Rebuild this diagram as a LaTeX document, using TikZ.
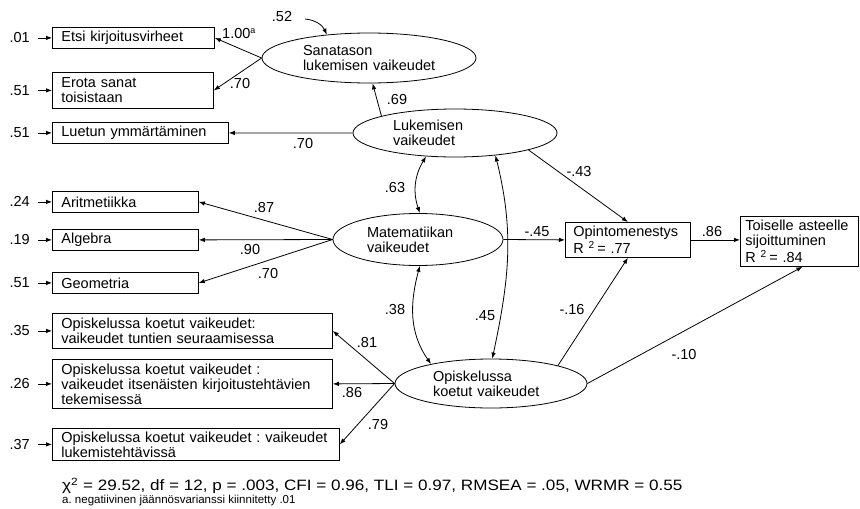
\documentclass[tikz,border=0pt]{standalone}
\usepackage{fontspec}
\setmainfont{Liberation Sans}
\newfontfamily\fitfont[FakeStretch=1.14]{Liberation Sans}
\usetikzlibrary{arrows.meta,shapes.geometric}
\frenchspacing

\begin{document}
\begin{tikzpicture}[x=1pt,y=-1pt,
  every node/.style={font=\fontsize{14.5}{15}\selectfont},
  tip/.tip={Latex[length=6pt,width=4.5pt]},
  arr/.style={draw, line width=0.8pt, -tip},
  dbl/.style={draw, line width=0.8pt, tip-tip},
  obs/.style={draw, line width=0.8pt, rectangle, anchor=north west,
              inner xsep=9pt, inner ysep=0pt, align=left},
  lat/.style={draw, line width=0.8pt, ellipse, inner sep=0pt, align=left},
  res/.style={inner sep=0pt, anchor=east},
  coef/.style={inner sep=0pt},
]
\fill[white] (0,0) rectangle (860,509);
\useasboundingbox (0,0) rectangle (860,509);

% observed indicators
\node[obs, text width=144pt, minimum height=21pt] (b1) at (52,27) {Etsi kirjoitusvirheet};
\node[obs, text width=143pt, minimum height=36pt] (b2) at (52,72) {Erota sanat\\toisistaan};
\node[obs, text width=158pt, minimum height=21pt] (b3) at (52,122) {Luetun ymmärtäminen};
\node[obs, text width=128pt, minimum height=21pt] (b4) at (52,191) {Aritmetiikka};
\node[obs, text width=128pt, minimum height=21pt] (b5) at (52,229) {Algebra};
\node[obs, text width=128pt, minimum height=21pt] (b6) at (52,272) {Geometria};
\node[obs, text width=262pt, minimum height=35pt] (b7) at (52,313)
  {Opiskelussa koetut vaikeudet:\\vaikeudet tuntien seuraamisessa};
\node[obs, text width=262pt, minimum height=49pt] (b8) at (52,359)
  {Opiskelussa koetut vaikeudet :\\vaikeudet itsenäisten kirjoitustehtävien\\tekemisessä};
\node[obs, text width=269pt, minimum height=32pt] (b9) at (52,428)
  {Opiskelussa koetut vaikeudet : vaikeudet\\lukemistehtävissä};

% outcomes
\node[obs, inner xsep=8pt, text width=109pt, minimum height=35pt] (opin) at (565,222)
  {Opintomenestys\\R \textsuperscript{2}\,= .77};
\node[obs, inner xsep=5pt, text width=108pt, minimum height=50pt] (tois) at (740,216)
  {\mbox{Toiselle asteelle}\\sijoittuminen\\R \textsuperscript{2}\,= .84};

% latent factors
\node[lat, minimum width=214pt, minimum height=50pt, text width=132pt] (san) at (369,58)
  {Sanatason\\\mbox{lukemisen vaikeudet}};
\node[lat, minimum width=204pt, minimum height=48pt, text width=124pt] (luk) at (455,133)
  {Lukemisen\\vaikeudet};
\node[lat, minimum width=170pt, minimum height=52pt, text width=102pt] (mat) at (418,239.5)
  {Matematiikan\\vaikeudet};
\node[lat, minimum width=192pt, minimum height=49pt, text width=116pt] (opi) at (491,383.5)
  {Opiskelussa\\koetut vaikeudet};

% residual variances
\foreach \b/\v in {b1/.01, b2/.51, b3/.51, b4/.24, b5/.19, b6/.51, b7/.35, b8/.26, b9/.37}{
  \node[res] (r\b) at ([xshift=-22pt]\b.west) {\v};
  \draw[arr] ([xshift=8pt]r\b.east) -- (\b.west);
}
\coordinate (e52) at (305,19);
\node[coef] (l52) at (282,17) {.52};
\draw[arr] (e52) to[out=-5,in=115] (san.151);

% loadings
\draw[arr] (san.west) -- (b1.east);
\draw[arr] (san.west) -- (b2.east);
\draw[arr] (luk.west) -- (b3.east);
\draw[arr] (luk.167) -- (san.-82);
\draw[arr] (mat.west) -- (b4.east);
\draw[arr] (mat.west) -- (b5.east);
\draw[arr] (mat.west) -- (b6.east);
\draw[arr] (opi.west) -- (b7.east);
\draw[arr] (opi.west) -- (b8.east);
\draw[arr] (opi.west) -- (b9.east);

% structural paths
\draw[arr] (luk.-13) -- (opin.north);
\draw[arr] (mat.east) -- (opin.west);
\draw[arr] (opi.15) -- (opin.south);
\draw[arr] (opin.east) -- (opin.east -| tois.west);
\draw[arr] (opi.east) -- ([xshift=3pt]tois.south);

% correlations
\draw[dbl] (luk.-141) to[bend right=25] (mat.86);
\draw[dbl] (mat.-86) to[out=-105,in=125] (opi.162);
\draw[dbl] (luk.-29) to[out=-76,in=78] (opi.87);

% coefficients
\node[coef, anchor=west] (l100) at (222,34) {1.00\textsuperscript{\fontsize{9}{9}\selectfont a}};
\node[coef] (l70a) at (240,84) {.70};
\node[coef] (l70b) at (303,144) {.70};
\node[coef] (l69) at (397,100) {.69};
\node[coef] (l43) at (579,172) {-.43};
\node[coef] (l63) at (395,188) {.63};
\node[coef] (l87) at (264,208) {.87};
\node[coef] (l90) at (250,250) {.90};
\node[coef] (l70c) at (268,274) {.70};
\node[coef] (l45a) at (537,232) {-.45};
\node[coef] (l86a) at (712,232) {.86};
\node[coef] (l38) at (395,310) {.38};
\node[coef] (l45b) at (485,316) {.45};
\node[coef] (l16) at (572,310) {-.16};
\node[coef] (l10) at (684,355) {-.10};
\node[coef] (l81) at (367,343) {.81};
\node[coef] (l86b) at (352,393) {.86};
\node[coef] (l79) at (378,425) {.79};

% fit indices and note
\node[anchor=base west, inner sep=0pt, font=\fitfont\fontsize{15}{16}\selectfont] (fit) at (62,490.5)
  {χ\textsuperscript{2} = 29.52, df = 12, p = .003, CFI = 0.96, TLI = 0.97, RMSEA = .05, WRMR = 0.55};
\node[anchor=base west, inner sep=0pt, font=\fontsize{11.5}{12}\selectfont] (note) at (62,503.5)
  {a. negatiivinen jäännösvarianssi kiinnitetty .01};
\end{tikzpicture}
\end{document}
